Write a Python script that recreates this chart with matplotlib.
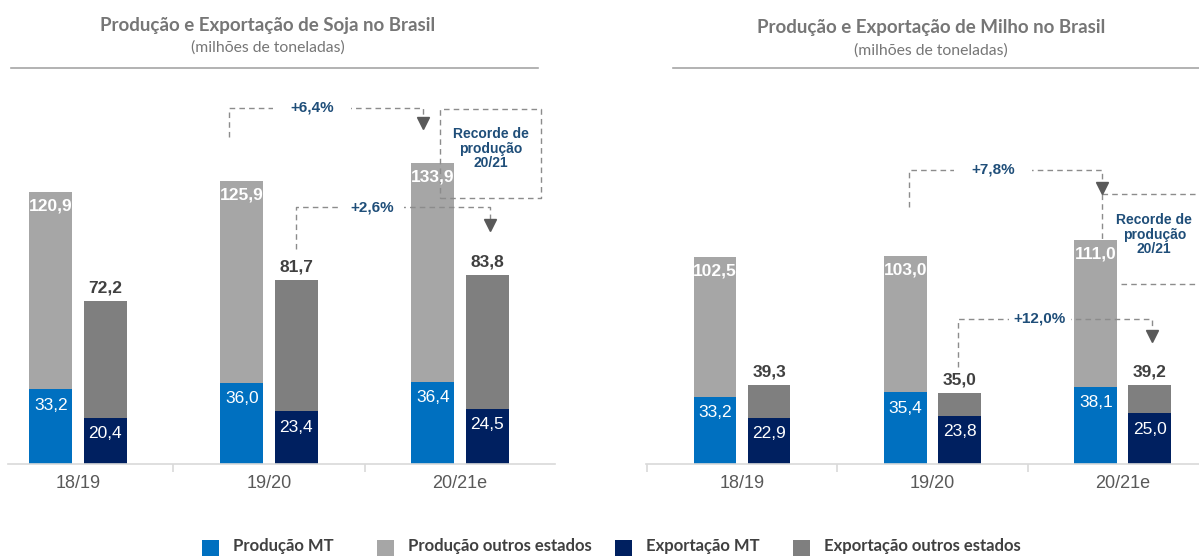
import matplotlib
matplotlib.use("Agg")
import matplotlib.pyplot as plt
from matplotlib.patches import Rectangle

# ---------------- data ----------------
categories = ["18/19", "19/20", "20/21e"]

soy_prod_mt = [33.2, 36.0, 36.4]
soy_prod_total = [120.9, 125.9, 133.9]
soy_exp_mt = [20.4, 23.4, 24.5]
soy_exp_total = [72.2, 81.7, 83.8]

corn_prod_mt = [33.2, 35.4, 38.1]
corn_prod_total = [102.5, 103.0, 111.0]
corn_exp_mt = [22.9, 23.8, 25.0]
corn_exp_total = [39.3, 35.0, 39.2]

soy_prod_growth = "+6,4%"
soy_exp_growth = "+2,6%"
corn_prod_growth = "+7,8%"
corn_exp_growth = "+12,0%"

legend_labels = ["Produção MT", "Produção outros estados", "Exportação MT", "Exportação outros estados"]

# ---------------- style ----------------
C_PMT = "#0070C0"
C_POT = "#A6A6A6"
C_EMT = "#002060"
C_EOT = "#7F7F7F"
C_ANN = "#1F4E79"
C_DASH = "#8C8C8C"
C_ARROW = "#595959"
NUM_FONT = ["Liberation Sans", "DejaVu Sans"]
TITLE_FONT = ["Lato", "DejaVu Sans"]

W, H, DPI = 1199, 557, 100
fig = plt.figure(figsize=(W / DPI, H / DPI), dpi=DPI)


def fr(x0, ytop, w, h):
    return [x0 / W, 1 - (ytop + h) / H, w / W, h / H]


BW = 0.225
OFF = 0.142


def fmt(v):
    return f"{v:.1f}".replace(".", ",")


def draw_panel(ax, prod_mt, prod_tot, exp_mt, exp_tot, xlim, ymax, seps):
    ax.set_xlim(*xlim)
    ax.set_ylim(0, ymax)
    x = list(range(len(categories)))
    xp = [i - OFF for i in x]
    xe = [i + OFF for i in x]
    prod_ot = [t - m for t, m in zip(prod_tot, prod_mt)]
    exp_ot = [t - m for t, m in zip(exp_tot, exp_mt)]
    ax.bar(xp, prod_mt, BW, color=C_PMT, zorder=2)
    ax.bar(xp, prod_ot, BW, bottom=prod_mt, color=C_POT, zorder=2)
    ax.bar(xe, exp_mt, BW, color=C_EMT, zorder=2)
    ax.bar(xe, exp_ot, BW, bottom=exp_mt, color=C_EOT, zorder=2)
    for i in x:
        ax.annotate(fmt(prod_mt[i]), (xp[i], prod_mt[i]), xytext=(0, -6), textcoords="offset points",
                    ha="center", va="top", color="white", fontsize=12.5, family=NUM_FONT, zorder=4)
        ax.annotate(fmt(exp_mt[i]), (xe[i], exp_mt[i]), xytext=(0, -6), textcoords="offset points",
                    ha="center", va="top", color="white", fontsize=12.5, family=NUM_FONT, zorder=4)
        ax.annotate(fmt(prod_tot[i]), (xp[i], prod_tot[i]), xytext=(0, -5), textcoords="offset points",
                    ha="center", va="top", color="white", fontsize=12.5, fontweight="bold",
                    family=NUM_FONT, zorder=4)
        ax.annotate(fmt(exp_tot[i]), (xe[i], exp_tot[i]), xytext=(0, 4), textcoords="offset points",
                    ha="center", va="bottom", color="#404040", fontsize=12.5, fontweight="bold",
                    family=NUM_FONT, zorder=4)
    for s in ["top", "left", "right"]:
        ax.spines[s].set_visible(False)
    ax.spines["bottom"].set_color("#D9D9D9")
    ax.spines["bottom"].set_linewidth(1.2)
    ax.set_yticks([])
    ax.set_xticks(x)
    ax.set_xticklabels(categories, fontsize=13, color="#595959", family=NUM_FONT)
    ax.tick_params(axis="x", which="major", length=0, pad=8)
    ax.set_xticks(seps, minor=True)
    ax.tick_params(axis="x", which="minor", length=6, color="#D9D9D9", width=1.2)


def dashed(ax, xs, ys):
    ax.plot(xs, ys, color=C_DASH, lw=1.0, ls=(0, (4, 3)), zorder=3, clip_on=False)


def growth(ax, x0, y0, x1, ytop, ytip, label, xt, k, pad=0.9):
    head_px = 11
    dy = head_px / k
    dashed(ax, [x0, x0, x1, x1], [y0, ytop, ytop, ytip + dy])
    ax.plot([x1], [ytip + dy / 2], marker="v", ms=8, color=C_ARROW, mec=C_ARROW, zorder=4, clip_on=False)
    ax.text(xt, ytop, label, ha="center", va="center", color=C_ANN, fontsize=11, fontweight="bold",
            family=NUM_FONT, zorder=5,
            bbox=dict(facecolor="white", edgecolor="none", boxstyle=f"square,pad={pad}"))


# ---------------- soy panel ----------------
ax1 = fig.add_axes(fr(8, 70, 547, 394))
SOY_YMAX = 175
k1 = 394 / SOY_YMAX
draw_panel(ax1, soy_prod_mt, soy_prod_total, soy_exp_mt, soy_exp_total, (-0.366, 2.497), SOY_YMAX, [0.5, 1.5])
growth(ax1, 0.79, soy_prod_total[1] + 44 / k1, 1.806, soy_prod_total[2] + 55 / k1,
       soy_prod_total[2] + 34 / k1, soy_prod_growth, 1.225, k1, pad=1.1)
growth(ax1, 1.141, soy_exp_total[1] + 31 / k1, 2.157, soy_exp_total[2] + 68 / k1,
       soy_exp_total[2] + 45 / k1, soy_exp_growth, 1.539, k1, pad=0.7)
# record box
bx0, bx1 = 1.895, 2.424
by1, by0 = soy_prod_total[2] + 54 / k1, soy_prod_total[2] - 35 / k1
dashed(ax1, [bx0, bx1, bx1, bx0, bx0], [by0, by0, by1, by1, by0])
ax1.text((bx0 + bx1) / 2, (by0 + by1) / 2 + 2, "Recorde de\nprodução\n20/21", ha="center", va="center",
         color=C_ANN, fontsize=10, fontweight="bold", family=NUM_FONT, linespacing=1.05, zorder=5)

# ---------------- corn panel ----------------
ax2 = fig.add_axes(fr(646, 70, 553, 394))
CORN_YMAX = 195
k2 = 394 / CORN_YMAX
draw_panel(ax2, corn_prod_mt, corn_prod_total, corn_exp_mt, corn_exp_total, (-0.504, 2.40), CORN_YMAX,
           [-0.5, 0.5, 1.5])
tip = corn_prod_total[2] + 46 / k2
growth(ax2, 0.877, corn_prod_total[1] + 49 / k2, 1.891, corn_prod_total[2] + 70 / k2,
       tip, corn_prod_growth, 1.318, k2, pad=1.1)
growth(ax2, 1.134, corn_exp_total[1] + 26 / k2, 2.153, corn_exp_total[2] + 66 / k2,
       corn_exp_total[2] + 43 / k2, corn_exp_growth, 1.565, k2, pad=0.3)
dashed(ax2, [1.891, 1.891], [tip, corn_prod_total[2]])
dashed(ax2, [1.891, 2.40], [tip, tip])
bot = corn_prod_total[2] - 44 / k2
dashed(ax2, [1.99, 2.40], [bot, bot])
ax2.text(2.165, corn_prod_total[2] + 2.5, "Recorde de\nprodução\n20/21", ha="center", va="center",
         color=C_ANN, fontsize=10, fontweight="bold", family=NUM_FONT, linespacing=1.05, zorder=5)

# ---------------- titles ----------------
TCOL = "#767676"
fig.text(268 / W, 1 - 25 / H, "Produção e Exportação de Soja no Brasil", ha="center", va="center",
         fontsize=13.5, fontweight="bold", color=TCOL, family=TITLE_FONT)
fig.text(268 / W, 1 - 48 / H, "(milhões de toneladas)", ha="center", va="center",
         fontsize=11.3, color=TCOL, family=TITLE_FONT)
fig.text(931 / W, 1 - 28 / H, "Produção e Exportação de Milho no Brasil", ha="center", va="center",
         fontsize=13.5, fontweight="bold", color=TCOL, family=TITLE_FONT)
fig.text(931 / W, 1 - 51 / H, "(milhões de toneladas)", ha="center", va="center",
         fontsize=11.3, color=TCOL, family=TITLE_FONT)
fig.add_artist(plt.Line2D([11 / W, 538 / W], [1 - 68 / H, 1 - 68 / H], color="#A6A6A6", lw=1.2))
fig.add_artist(plt.Line2D([673 / W, 1.0], [1 - 68 / H, 1 - 68 / H], color="#A6A6A6", lw=1.2))

# ---------------- legend ----------------
leg_colors = [C_PMT, C_POT, C_EMT, C_EOT]
leg_x = [202, 377, 615, 793]
for c, lx, lab in zip(leg_colors, leg_x, legend_labels):
    fig.add_artist(Rectangle((lx / W, 1 - 556 / H), 17 / W, 16 / H, transform=fig.transFigure,
                             facecolor=c, edgecolor="none"))
    fig.text((lx + 31) / W, 1 - 546 / H, lab, ha="left", va="center", fontsize=12, fontweight="bold",
             color="#404040", family=TITLE_FONT)

fig.savefig("out.png", dpi=DPI)
